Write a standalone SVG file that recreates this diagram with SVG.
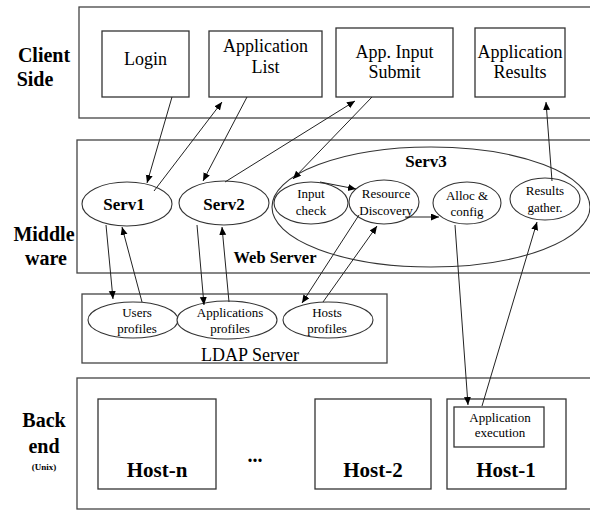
<svg xmlns="http://www.w3.org/2000/svg" width="590" height="511" viewBox="0 0 590 511" font-family="'Liberation Serif', 'DejaVu Serif', 'Times New Roman', serif">
  <style>
    .tier { fill: #fff; stroke: #444; stroke-width: 1.3; }
    .box { fill: #fff; stroke: #333; stroke-width: 1.3; }
    .oval { fill: #fff; stroke: #333; stroke-width: 1.1; }
    .big { fill: none; stroke: #333; stroke-width: 1.1; }
    text { font-family: 'Liberation Serif', 'DejaVu Serif', 'Times New Roman', serif; fill: #000; text-anchor: middle; }
    .layer { font-size: 20px; font-weight: bold; }
    .lbl { font-size: 18px; }
    .bold17 { font-size: 17px; font-weight: bold; }
    .small { font-size: 13px; }
    .host { font-size: 21px; font-weight: bold; }
    .edge { stroke: #222; stroke-width: 1; fill: none; marker-end: url(#arrow); }
  </style>
  <defs>
    <marker id="arrow" markerUnits="userSpaceOnUse" markerWidth="10" markerHeight="8" refX="8" refY="3.5" orient="auto">
      <path d="M0,0 L8,3.5 L0,7 Z" fill="#000"/>
    </marker>
  </defs>
  <rect width="590" height="511" fill="#fff"/>

  <!-- tier labels -->
  <g id="tier-labels">
    <text class="layer" x="44" y="62">Client</text>
    <text class="layer" x="35" y="86">Side</text>
    <text class="layer" x="44" y="241">Middle</text>
    <text class="layer" x="46" y="265">ware</text>
    <text class="layer" x="44" y="427">Back</text>
    <text class="layer" x="44" y="453">end</text>
    <text x="44" y="470" style="font-size:9px;font-weight:bold">(Unix)</text>
  </g>

  <!-- client tier -->
  <g id="client-side">
    <rect class="tier" x="79" y="7" width="530" height="111"/>
  </g>
  <g id="login">
    <rect class="box" x="102" y="31" width="87" height="66"/>
    <text class="lbl" x="145.5" y="65">Login</text>
  </g>
  <g id="application-list">
    <rect class="box" x="209" y="31" width="113" height="66"/>
    <text class="lbl" x="265.5" y="52">Application</text>
    <text class="lbl" x="265.5" y="73">List</text>
  </g>
  <g id="app-input-submit">
    <rect class="box" x="336" y="28" width="117" height="69"/>
    <text class="lbl" x="394.5" y="58">App. Input</text>
    <text class="lbl" x="394.5" y="78">Submit</text>
  </g>
  <g id="application-results">
    <rect class="box" x="475" y="28" width="90" height="69"/>
    <text class="lbl" x="520" y="58">Application</text>
    <text class="lbl" x="520" y="78">Results</text>
  </g>

  <!-- middleware tier -->
  <g id="web-server">
    <rect class="tier" x="77" y="140" width="530" height="133"/>
    <text x="275" y="263" style="font-size:16.5px;font-weight:bold">Web Server</text>
  </g>
  <g id="serv1">
    <ellipse class="oval" cx="127" cy="204" rx="45" ry="22"/>
    <text class="bold17" x="124" y="210">Serv1</text>
  </g>
  <g id="serv2">
    <ellipse class="oval" cx="224" cy="203" rx="45" ry="22"/>
    <text class="bold17" x="224" y="210">Serv2</text>
  </g>
  <g id="serv3">
    <ellipse class="big" cx="431" cy="207" rx="159" ry="60"/>
    <text class="bold17" x="426" y="167">Serv3</text>
  </g>
  <g id="input-check">
    <ellipse class="oval" cx="311" cy="203" rx="37" ry="21"/>
    <text class="small" x="311" y="198">Input</text>
    <text class="small" x="311" y="215">check</text>
  </g>
  <g id="resource-discovery">
    <ellipse class="oval" cx="384" cy="202" rx="35" ry="22"/>
    <text class="small" x="386" y="198">Resource</text>
    <text class="small" x="386" y="215">Discovery</text>
  </g>
  <g id="alloc-config">
    <ellipse class="oval" cx="467" cy="203" rx="34" ry="21"/>
    <text class="small" x="467" y="200">Alloc &amp;</text>
    <text class="small" x="467" y="216">config</text>
  </g>
  <g id="results-gather">
    <ellipse class="oval" cx="545" cy="199" rx="35" ry="21"/>
    <text class="small" x="545" y="195">Results</text>
    <text class="small" x="545" y="212">gather.</text>
  </g>

  <!-- directory tier -->
  <g id="ldap-server">
    <rect class="tier" x="82" y="294" width="305" height="69"/>
    <text class="lbl" x="250" y="361">LDAP Server</text>
  </g>
  <g id="users-profiles">
    <ellipse class="oval" cx="133" cy="320" rx="45" ry="18"/>
    <text class="small" x="137" y="317">Users</text>
    <text class="small" x="137" y="333">profiles</text>
  </g>
  <g id="applications-profiles">
    <ellipse class="oval" cx="227" cy="320" rx="50" ry="19"/>
    <text class="small" x="230" y="317">Applications</text>
    <text class="small" x="230" y="333">profiles</text>
  </g>
  <g id="hosts-profiles">
    <ellipse class="oval" cx="328" cy="320" rx="45" ry="18"/>
    <text class="small" x="327" y="317">Hosts</text>
    <text class="small" x="327" y="333">profiles</text>
  </g>

  <!-- back end tier -->
  <g id="back-end">
    <rect class="tier" x="77" y="378" width="530" height="131"/>
    <text x="255" y="462" style="font-size:20px;font-weight:bold">...</text>
  </g>
  <g id="host-n">
    <rect class="box" x="98" y="399" width="118" height="90"/>
    <text class="host" x="157" y="477">Host-n</text>
  </g>
  <g id="host-2">
    <rect class="box" x="315" y="399" width="116" height="90"/>
    <text class="host" x="373" y="477">Host-2</text>
  </g>
  <g id="host-1">
    <rect class="box" x="447" y="399" width="119" height="90"/>
    <text class="host" x="506" y="477">Host-1</text>
  </g>
  <g id="application-execution">
    <rect class="box" x="454" y="407" width="90" height="40"/>
    <text class="small" x="500" y="422">Application</text>
    <text class="small" x="500" y="437">execution</text>
  </g>

  <!-- connectors -->
  <g id="connectors">
    <line class="edge" x1="172" y1="97" x2="147" y2="183"/>
    <line class="edge" x1="154" y1="191" x2="222" y2="102"/>
    <line class="edge" x1="247" y1="97" x2="203" y2="181"/>
    <line class="edge" x1="225" y1="182" x2="355" y2="101"/>
    <line class="edge" x1="372" y1="97" x2="293" y2="179"/>
    <line class="edge" x1="320" y1="182" x2="356" y2="189"/>
    <line class="edge" x1="405" y1="217" x2="439" y2="217"/>
    <line class="edge" x1="552" y1="181" x2="546" y2="102"/>
    <line class="edge" x1="359" y1="215" x2="302" y2="303"/>
    <line class="edge" x1="323" y1="302" x2="377" y2="226"/>
    <line class="edge" x1="106" y1="225" x2="113" y2="299"/>
    <line class="edge" x1="142" y1="302" x2="122" y2="227"/>
    <line class="edge" x1="197" y1="225" x2="204" y2="305"/>
    <line class="edge" x1="229" y1="302" x2="222" y2="227"/>
    <line class="edge" x1="455" y1="225" x2="468" y2="405"/>
    <line class="edge" x1="482" y1="406" x2="537" y2="222"/>
  </g>
</svg>
